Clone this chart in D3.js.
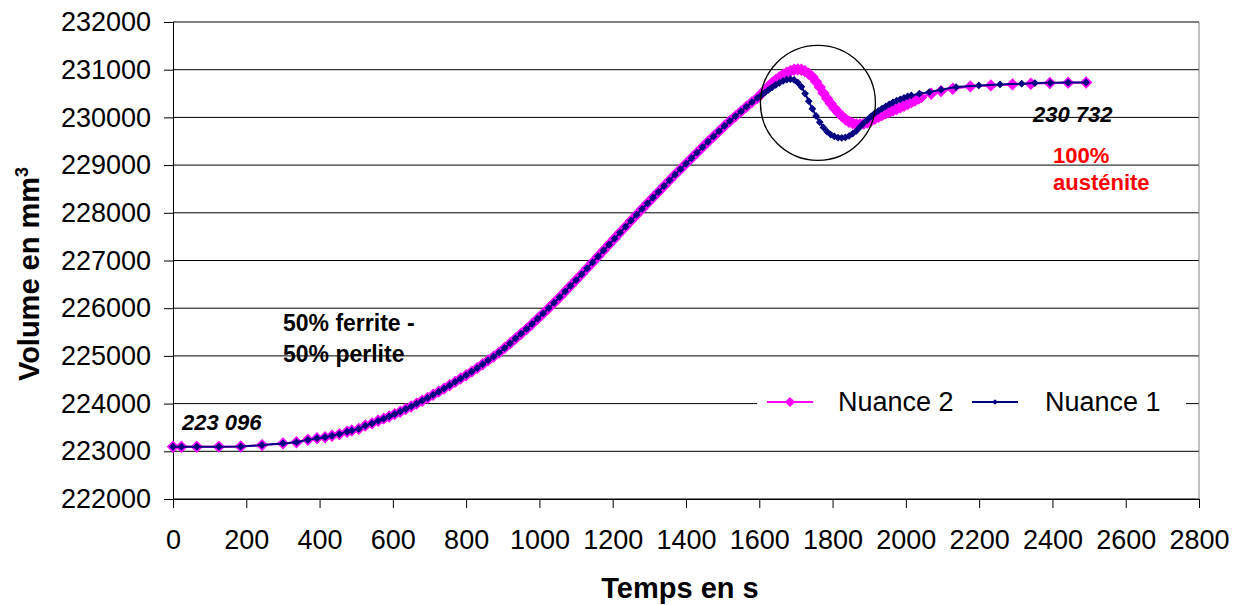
<!DOCTYPE html>
<html>
<head>
<meta charset="utf-8">
<script src="https://cdn.jsdelivr.net/npm/d3@7"></script>
<style>
  body { margin: 0; background: #fff; }
  text { font-family: "Liberation Sans", Arial, sans-serif; }
</style>
</head>
<body>
<div id="container"></div>
<script>
/* CONSTANTS AND GLOBALS */
const width = 1242,
  height = 605,
  margin = {top: 22, bottom: 106, left: 173, right: 43};

// shared part of the curve (both grades overlap here), time in s / volume in mm3
const riseTime = [0, 23, 65, 125, 185, 243, 300, 337, 368, 393, 415, 434, 454, 475, 488, 507, 525, 543,
  560, 575, 590, 605, 620, 635, 650, 665, 680, 695, 710, 725, 740, 755, 770, 785, 800, 815, 830, 845,
  860, 875, 890, 905, 920, 935, 950, 965, 980, 995, 1010, 1025, 1040, 1055, 1070, 1085, 1100, 1115,
  1130, 1145, 1160, 1175, 1190, 1205, 1220, 1235, 1250, 1265, 1280, 1295, 1310, 1325, 1340, 1355,
  1370, 1385, 1400, 1415, 1430, 1445, 1460, 1475, 1490, 1505, 1520, 1535, 1550, 1565, 1580, 1595];
const riseVol = [223096, 223096, 223096, 223098, 223100, 223130, 223165, 223190, 223240, 223275, 223295,
  223325, 223360, 223410, 223435, 223470, 223540, 223585,
  223640, 223685, 223730, 223780, 223830, 223885, 223940, 224000, 224060, 224120, 224185, 224250,
  224315, 224385, 224455, 224525, 224595, 224670, 224745, 224825, 224905, 224985, 225070, 225165,
  225265, 225365, 225465, 225565, 225670, 225780, 225890, 226000, 226115, 226230, 226350, 226470,
  226590, 226710, 226835, 226960, 227085, 227210, 227335, 227460, 227585, 227710, 227835, 227960,
  228080, 228200, 228320, 228440, 228560, 228680, 228800, 228915, 229030, 229145, 229260, 229375,
  229490, 229600, 229710, 229820, 229925, 230025, 230125, 230225, 230320, 230410];

// Nuance 1 after the shared part
const n1Time = [1605, 1615, 1625, 1635, 1645, 1655, 1665, 1675, 1685, 1695, 1705, 1715, 1725, 1735,
  1745, 1755, 1765, 1775, 1785, 1795, 1805, 1815, 1825, 1835, 1845, 1855, 1865, 1875, 1885, 1895,
  1905, 1915, 1925, 1935, 1945, 1955, 1965, 1975, 1985, 1995, 2005, 2015, 2037, 2064,
  2096, 2137, 2199, 2257, 2316, 2352, 2394, 2443, 2492];
const n1Vol = [230460, 230520, 230575, 230630, 230680, 230725, 230765, 230790, 230800, 230785, 230730,
  230640, 230500, 230340, 230180, 230030, 229900, 229790, 229700, 229640, 229600, 229575, 229570,
  229580, 229610, 229660, 229720, 229800, 229880, 229950, 230020, 230085, 230135, 230185, 230230,
  230275, 230315, 230350, 230380, 230410, 230440, 230461, 230497, 230530,
  230580, 230635, 230671, 230692, 230706, 230719, 230725, 230730, 230732];

// Nuance 2 after the shared part
const n2Time = [1605, 1615, 1625, 1635, 1645, 1655, 1665, 1675, 1685, 1695, 1705, 1715, 1725, 1735,
  1745, 1755, 1765, 1775, 1785, 1795, 1805, 1815, 1825, 1835, 1845, 1855, 1865, 1875, 1885, 1895,
  1905, 1915, 1925, 1935, 1945, 1955, 1965, 1975, 1985, 1995, 2005, 2015, 2025, 2035, 2042,
  2069, 2096, 2128, 2176, 2232, 2291, 2341, 2393, 2443, 2492];
const n2Vol = [230490, 230570, 230650, 230720, 230785, 230840, 230895, 230940, 230975, 230998, 231008,
  231000, 230970, 230915, 230850, 230750, 230635, 230510, 230395, 230290, 230190, 230110, 230030,
  229960, 229910, 229875, 229855, 229855, 229870, 229890, 229930, 229970, 230010, 230050, 230085,
  230110, 230145, 230175, 230210, 230245, 230280, 230315, 230355, 230395, 230425,
  230497, 230551, 230601, 230650, 230671, 230692, 230706, 230720, 230728, 230732];

const xTicks = [0, 200, 400, 600, 800, 1000, 1200, 1400, 1600, 1800, 2000, 2200, 2400, 2600, 2800];
const yTicks = [222000, 223000, 224000, 225000, 226000, 227000, 228000, 229000, 230000, 231000, 232000];

const seriesNames = ["Nuance 2", "Nuance 1"];
const seriesColors = ["#ff00ff", "#000080"];

// build point lists from the arrays
const toPoints = (ts, vs) => ts.map((t, i) => ({t: t, v: vs[i]}));
const shared = toPoints(riseTime, riseVol);
const nuance1 = shared.concat(toPoints(n1Time, n1Vol));
const nuance2 = shared.concat(toPoints(n2Time, n2Vol));

/* SCALES */
const xScale = d3.scaleLinear()
  .domain([0, 2800])
  .range([margin.left, width - margin.right]);

const yScale = d3.scaleLinear()
  .domain([222000, 232000])
  .range([height - margin.bottom, margin.top]);

/* SVG */
const svg = d3.select("#container")
  .append("svg")
  .attr("width", width)
  .attr("height", height);

// gridlines
svg.append("g")
  .selectAll("line")
  .data(yTicks)
  .join("line")
  .attr("x1", margin.left)
  .attr("x2", width - margin.right)
  .attr("y1", d => yScale(d))
  .attr("y2", d => yScale(d))
  .attr("stroke", "#000")
  .attr("stroke-width", 1);

// right border of plot area
svg.append("line")
  .attr("x1", width - margin.right).attr("x2", width - margin.right)
  .attr("y1", margin.top).attr("y2", height - margin.bottom)
  .attr("stroke", "#808080");

// legend box hides the gridline behind it
svg.append("rect")
  .attr("x", 757).attr("y", 387)
  .attr("width", 429).attr("height", 32)
  .attr("fill", "#fff");

/* AXES */
const xAxis = d3.axisBottom(xScale).tickValues(xTicks).tickSize(9).tickPadding(22).tickFormat(d3.format("d"));
const yAxis = d3.axisLeft(yScale).tickValues(yTicks).tickSize(9).tickPadding(13).tickFormat(d3.format("d"));

const xg = svg.append("g")
  .attr("transform", `translate(0,${height - margin.bottom})`)
  .call(xAxis);
const yg = svg.append("g")
  .attr("transform", `translate(${margin.left},0)`)
  .call(yAxis);

[xg, yg].forEach(g => {
  g.select(".domain").attr("stroke", "#000");
  g.selectAll(".tick line").attr("stroke", "#000");
  g.selectAll(".tick text")
    .attr("fill", "#000")
    .style("font-size", "27px")
    .style("font-family", '"Liberation Sans", Arial, sans-serif');
});

// axis titles
svg.append("text")
  .attr("x", 680).attr("y", 598)
  .attr("text-anchor", "middle")
  .style("font-size", "29px").style("font-weight", "bold")
  .text("Temps en s");

const yTitle = svg.append("text")
  .attr("transform", "translate(39,274) rotate(-90)")
  .attr("text-anchor", "middle")
  .style("font-size", "29px").style("font-weight", "bold");
yTitle.append("tspan").text("Volume en mm");
yTitle.append("tspan").attr("dy", -11).style("font-size", "18px").text("3");

/* SERIES */
const line = d3.line()
  .x(d => xScale(d.t))
  .y(d => yScale(d.v));

const diamond = size => d3.symbol(d3.symbolSquare, size)();

function drawSeries(points, color, markerSize) {
  const g = svg.append("g");
  g.append("path")
    .datum(points)
    .attr("d", line)
    .attr("fill", "none")
    .attr("stroke", color)
    .attr("stroke-width", 2);
  g.selectAll("path.marker")
    .data(points)
    .join("path")
    .attr("class", "marker")
    .attr("d", diamond(markerSize))
    .attr("transform", d => `translate(${xScale(d.t)},${yScale(d.v)}) rotate(45)`)
    .attr("fill", color)
    .attr("stroke", color)
    .attr("stroke-width", 1);
}

drawSeries(nuance2, seriesColors[0], 60);
drawSeries(nuance1, seriesColors[1], 20);

// circle round the transformation zone
svg.append("circle")
  .attr("cx", xScale(1760))
  .attr("cy", yScale(230305))
  .attr("r", 57.5)
  .attr("fill", "none")
  .attr("stroke", "#000")
  .attr("stroke-width", 1.3);

/* ANNOTATIONS */
svg.append("text")
  .attr("x", 182).attr("y", 430)
  .style("font-size", "22px").style("font-weight", "bold").style("font-style", "italic")
  .text("223 096");

svg.append("text")
  .attr("x", 1033).attr("y", 122)
  .style("font-size", "22px").style("font-weight", "bold").style("font-style", "italic")
  .text("230 732");

const phase1 = svg.append("text")
  .style("font-size", "23px").style("font-weight", "bold");
phase1.append("tspan").attr("x", 283).attr("y", 331).text("50% ferrite -");
phase1.append("tspan").attr("x", 283).attr("y", 362).text("50% perlite");

const phase2 = svg.append("text")
  .attr("fill", "#ff0000")
  .style("font-size", "22px").style("font-weight", "bold");
phase2.append("tspan").attr("x", 1053).attr("y", 163).text("100%");
phase2.append("tspan").attr("x", 1053).attr("y", 190).text("austénite");

/* LEGEND */
const legendX = [767, 972];
const legend = svg.append("g")
  .selectAll("g")
  .data(seriesNames)
  .join("g")
  .attr("transform", (d, i) => `translate(${legendX[i]},402)`);

legend.append("line")
  .attr("x1", 0).attr("x2", 46)
  .attr("stroke", (d, i) => seriesColors[i])
  .attr("stroke-width", 2);
legend.append("path")
  .attr("d", (d, i) => diamond(i === 0 ? 52 : 16))
  .attr("transform", "translate(23,0) rotate(45)")
  .attr("fill", (d, i) => seriesColors[i]);
legend.append("text")
  .attr("x", (d, i) => i === 0 ? 71 : 73)
  .attr("y", 9)
  .style("font-size", "27px")
  .text(d => d);
</script>
</body>
</html>
